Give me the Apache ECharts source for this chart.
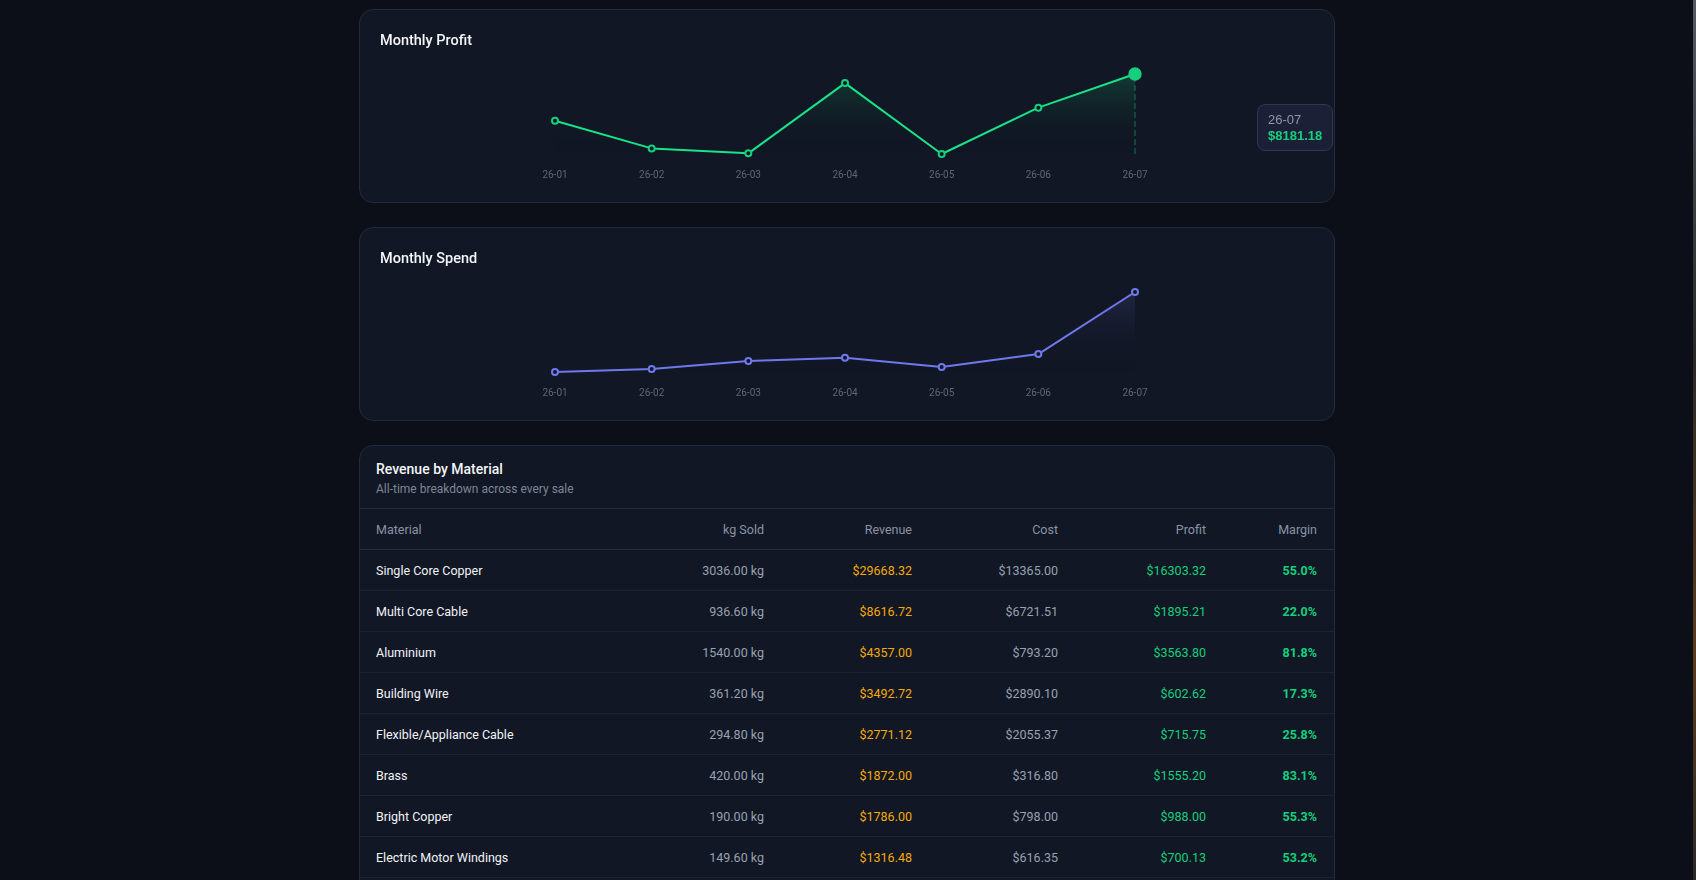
<!DOCTYPE html>
<html>
<head>
<meta charset="utf-8">
<script src="https://cdn.jsdelivr.net/npm/echarts@6/dist/echarts.min.js"></script>
<style>
  html, body { margin: 0; padding: 0; background: #0c0f17; overflow: hidden; }
  body { width: 1696px; height: 880px; position: relative; font-family: Roboto, "Noto Sans", sans-serif; }
  .card { position: absolute; left: 359px; width: 974px; background: #111724; border: 1px solid #222a3b; border-radius: 14px; overflow: hidden; }
  .chart-card { height: 192px; }
  .chart-card h3 { position: absolute; left: 20px; top: 21px; margin: 0; font-size: 14.5px; font-weight: 500; color: #f3f5f8; line-height: 20px; z-index: 2; }
  .chart { position: absolute; left: 0; top: 0; width: 974px; height: 192px; }
  .table-card { top: 445px; height: 470px; }
  .tbl-head { height: 63px; border-bottom: 1px solid #232b3e; padding: 13px 16px 0; box-sizing: border-box; }
  .tbl-head .t { font-size: 14px; font-weight: 500; color: #f3f5f8; line-height: 20px; }
  .tbl-head .s { font-size: 12px; color: #7d8699; line-height: 18px; margin-top: 1px; }
  table { border-collapse: collapse; table-layout: fixed; width: 974px; font-size: 12.5px; }
  th, td { height: 40px; padding: 0; text-align: right; border-bottom: 1px solid #1c2334; }
  th { font-weight: 400; color: #8a93a6; border-bottom-color: #252d40; }
  th:first-child, td:first-child { text-align: left; padding-left: 16px; }
  th:last-child, td:last-child { padding-right: 17px; }
  td.name { color: #f1f3f7; font-weight: 400; }
  td.kg, td.cost { color: #98a1b2; }
  td.rev { color: #f5a90a; }
  td.profit { color: #16cf7c; }
  td.margin { color: #16cf7c; font-weight: 700; }
  .edge { position: absolute; right: 0; top: 0; width: 3px; height: 880px; background: linear-gradient(#555a63, #2b2a28 40%, #5a3c1c 75%, #2b2a28); }
</style>
</head>
<body>
<div class="card chart-card" style="top:9px"><h3>Monthly Profit</h3><div class="chart" id="profit_chart"></div></div>
<div class="card chart-card" style="top:227px"><h3>Monthly Spend</h3><div class="chart" id="spend_chart"></div></div>
<div class="card table-card">
  <div class="tbl-head"><div class="t">Revenue by Material</div><div class="s">All-time breakdown across every sale</div></div>
  <table id="material_table">
    <colgroup><col style="width:260px"><col style="width:144px"><col style="width:148px"><col style="width:146px"><col style="width:148px"><col style="width:128px"></colgroup>
    <thead><tr><th>Material</th><th>kg Sold</th><th>Revenue</th><th>Cost</th><th>Profit</th><th>Margin</th></tr></thead>
    <tbody></tbody>
  </table>
</div>
<div class="edge"></div>
<script>
// monthly chart data
var months = ['26-01', '26-02', '26-03', '26-04', '26-05', '26-06', '26-07'];
var monthlyProfit = [3750, 1130, 660, 7320, 600, 4990, 8181.18];
var monthlySpend = [1500, 1900, 2970, 3400, 2160, 3900, 12200];

// revenue by material table
var materials = ['Single Core Copper', 'Multi Core Cable', 'Aluminium', 'Building Wire', 'Flexible/Appliance Cable', 'Brass', 'Bright Copper', 'Electric Motor Windings'];
var kgSold = [3036.00, 936.60, 1540.00, 361.20, 294.80, 420.00, 190.00, 149.60];
var revenue = [29668.32, 8616.72, 4357.00, 3492.72, 2771.12, 1872.00, 1786.00, 1316.48];
var cost = [13365.00, 6721.51, 793.20, 2890.10, 2055.37, 316.80, 798.00, 616.35];
var profit = [16303.32, 1895.21, 3563.80, 602.62, 715.75, 1555.20, 988.00, 700.13];
var margin = [55.0, 22.0, 81.8, 17.3, 25.8, 83.1, 55.3, 53.2];

var rows = '';
for (var i = 0; i < materials.length; i++) {
    rows += '<tr><td class="name">' + materials[i] + '</td>' +
        '<td class="kg">' + kgSold[i].toFixed(2) + ' kg</td>' +
        '<td class="rev">$' + revenue[i].toFixed(2) + '</td>' +
        '<td class="cost">$' + cost[i].toFixed(2) + '</td>' +
        '<td class="profit">$' + profit[i].toFixed(2) + '</td>' +
        '<td class="margin">' + margin[i].toFixed(1) + '%</td></tr>';
}
document.querySelector('#material_table tbody').innerHTML = rows;

function lineOption(values, color, fadeTop) {
    return {
        animation: false,
        grid: { left: 195, right: 199, top: 64, bottom: 48 },
        xAxis: {
            type: 'category',
            data: months,
            boundaryGap: false,
            axisLine: { show: false },
            axisTick: { show: false },
            axisLabel: { color: '#5e6678', fontSize: 10, margin: 16, fontFamily: 'Roboto' }
        },
        yAxis: { type: 'value', show: false, min: 'dataMin', max: 'dataMax' },
        series: [{
            type: 'line',
            data: values,
            symbol: 'circle',
            symbolSize: 6,
            lineStyle: { color: color, width: 2 },
            itemStyle: { color: '#111724', borderColor: color, borderWidth: 2 },
            emphasis: { scale: 1.9, itemStyle: { color: color, borderColor: color } },
            areaStyle: {
                origin: 'start',
                color: new echarts.graphic.LinearGradient(0, 0, 0, 1, [
                    { offset: 0, color: fadeTop },
                    { offset: 1, color: 'rgba(0,0,0,0)' }
                ])
            }
        }]
    };
}

var profitChart = echarts.init(document.getElementById('profit_chart'));
var profitOption = lineOption(monthlyProfit, '#16cf7c', 'rgba(22,207,124,0.26)');
profitOption.tooltip = {
    trigger: 'axis',
    alwaysShowContent: true,
    triggerOn: 'none',
    position: function () { return [897, 94]; },
    backgroundColor: '#1b2036',
    borderColor: '#30374f',
    borderWidth: 1,
    padding: [7, 10, 6, 10],
    extraCssText: 'border-radius:8px;box-shadow:none;',
    axisPointer: { type: 'line', lineStyle: { color: 'rgba(22,207,124,0.35)', type: 'dashed', width: 1.5 } },
    formatter: function (params) {
        var p = params[0];
        return '<div style="font:13px/16px Liberation Sans, sans-serif;color:#8f96ab">' + p.name + '</div>' +
            '<div style="font:bold 13px/16px Liberation Sans, sans-serif;color:#16cf7c">$' + p.value.toFixed(2) + '</div>';
    }
};
profitChart.setOption(profitOption);
profitChart.dispatchAction({ type: 'showTip', seriesIndex: 0, dataIndex: 6 });

var spendChart = echarts.init(document.getElementById('spend_chart'));
spendChart.setOption(lineOption(monthlySpend, '#6f78ec', 'rgba(111,120,236,0.24)'));
</script>
</body>
</html>
